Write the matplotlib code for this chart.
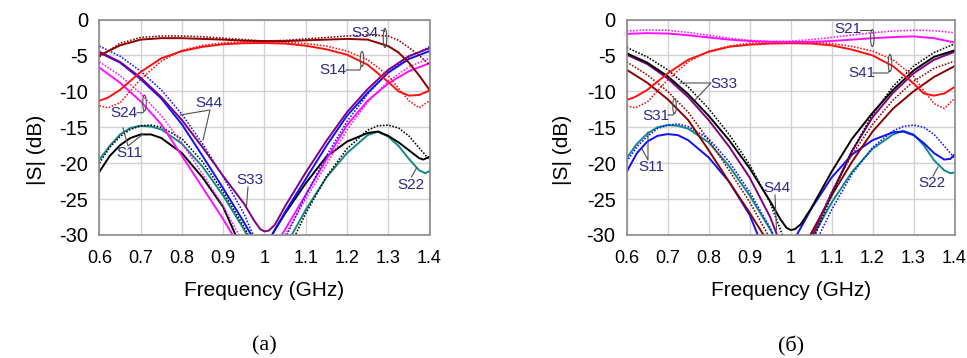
import matplotlib
matplotlib.use("Agg")
import matplotlib.pyplot as plt
from matplotlib.patches import Ellipse

plt.rcParams['font.family'] = ['Liberation Sans', 'DejaVu Sans']

# ---------------- data : panel (a) ----------------
a_S34_f = [0.6, 0.65, 0.7, 0.75, 0.8, 0.85, 0.9, 0.95, 1.0, 1.05, 1.1, 1.15, 1.2, 1.25, 1.3, 1.325, 1.35, 1.375, 1.4]
a_S34_sim = [-5.0, -3.6, -2.8, -2.6, -2.6, -2.7, -2.8, -2.95, -3.0, -3.0, -2.9, -2.8, -2.7, -2.8, -3.7, -4.6, -6.0, -7.8, -9.8]
a_S34_meas = [-5.2, -3.3, -2.5, -2.3, -2.3, -2.4, -2.6, -2.8, -3.0, -2.9, -2.7, -2.5, -2.3, -2.15, -2.3, -2.9, -3.9, -5.0, -6.3]

a_S14_f = [0.6, 0.62, 0.65, 0.7, 0.75, 0.8, 0.85, 0.9, 0.95, 1.0, 1.05, 1.1, 1.15, 1.2, 1.25, 1.3, 1.325, 1.35, 1.375, 1.4]
a_S14_sim = [-11.3, -10.9, -9.8, -7.3, -5.4, -4.4, -3.8, -3.45, -3.3, -3.27, -3.35, -3.65, -4.15, -4.9, -6.3, -8.7, -10.0, -10.6, -10.5, -9.9]
a_S14_meas = [-12.0, -12.3, -11.6, -8.3, -5.8, -4.3, -3.6, -3.25, -3.1, -3.1, -3.15, -3.35, -3.7, -4.4, -5.6, -7.8, -9.6, -11.3, -12.3, -11.3]

a_S44_f = [0.6, 0.65, 0.7, 0.75, 0.8, 0.85, 0.9, 0.95, 0.97, 1.0, 1.02, 1.05, 1.1, 1.15, 1.2, 1.25, 1.3, 1.35, 1.4]
a_S44_sim = [-4.6, -6.0, -8.3, -11.0, -14.6, -19.0, -23.5, -28.2, -30.2, -38.0, -29.8, -26.8, -22.2, -17.6, -13.4, -10.2, -7.4, -5.5, -4.4]
a_S44m_f = [0.6, 0.65, 0.7, 0.75, 0.8, 0.85, 0.9, 0.95, 0.975, 1.0, 1.04, 1.05, 1.1, 1.15, 1.2, 1.25, 1.3, 1.35, 1.4]
a_S44_meas = [-3.7, -5.1, -7.2, -9.8, -13.2, -17.3, -21.9, -27.0, -30.3, -36.0, -34.0, -30.5, -24.5, -19.0, -14.2, -10.4, -7.3, -5.2, -3.8]

a_S33_f = [0.6, 0.65, 0.7, 0.75, 0.8, 0.85, 0.9, 0.95, 0.975, 0.99, 1.0, 1.01, 1.025, 1.05, 1.1, 1.15, 1.2, 1.25, 1.3, 1.35, 1.4]
a_S33_sim = [-4.5, -5.9, -8.1, -10.8, -14.0, -17.8, -21.8, -25.6, -28.0, -29.2, -29.5, -29.4, -28.6, -26.0, -21.3, -16.9, -12.9, -9.7, -7.0, -5.1, -4.0]

a_S24_f = [0.6, 0.65, 0.7, 0.75, 0.8, 0.85, 0.9, 0.925, 0.95, 1.03, 1.042, 1.1, 1.15, 1.2, 1.25, 1.3, 1.35, 1.4]
a_S24_sim = [-6.7, -8.8, -11.4, -14.6, -19.0, -23.4, -27.8, -30.2, -34.0, -33.0, -30.0, -24.4, -19.5, -14.7, -11.3, -8.9, -7.2, -6.1]
a_S24m_f = [0.6, 0.65, 0.7, 0.75, 0.8, 0.85, 0.9, 0.94, 0.96, 1.04, 1.05, 1.1, 1.15, 1.2, 1.25, 1.3, 1.35, 1.4]
a_S24_meas = [-5.9, -7.8, -10.3, -13.4, -17.2, -21.5, -26.0, -30.2, -33.0, -33.0, -30.0, -25.0, -20.2, -15.4, -11.5, -8.6, -6.6, -5.4]

a_S11t_f = [0.6, 0.625, 0.65, 0.675, 0.7, 0.725, 0.75, 0.8, 0.85, 0.9, 0.95, 0.96, 0.98, 1.06, 1.066, 1.1, 1.15, 1.2, 1.25, 1.275, 1.3, 1.325, 1.35, 1.375, 1.39, 1.4]
a_S11_teal = [-19.5, -17.6, -16.0, -15.1, -14.8, -14.9, -15.3, -17.3, -20.5, -24.5, -29.2, -30.3, -33.0, -31.0, -30.0, -26.5, -22.0, -18.6, -16.1, -15.6, -16.3, -17.6, -19.4, -21.0, -21.4, -21.1]
a_S11k_f = [0.6, 0.625, 0.65, 0.675, 0.7, 0.725, 0.75, 0.8, 0.85, 0.9, 0.93, 0.95, 1.0, 1.02, 1.05, 1.1, 1.15, 1.2, 1.25, 1.275, 1.3, 1.325, 1.35, 1.375, 1.385, 1.4]
a_S11_black = [-21.2, -19.0, -17.5, -16.5, -16.0, -16.0, -16.5, -18.6, -22.0, -26.1, -30.0, -33.0, -33.0, -29.8, -27.0, -22.8, -19.1, -17.0, -15.8, -15.6, -16.2, -17.1, -18.2, -19.3, -19.5, -19.1]
a_S11d_f = [0.6, 0.625, 0.65, 0.675, 0.7, 0.725, 0.75, 0.8, 0.85, 0.9, 0.95, 0.965, 0.99, 1.06, 1.075, 1.1, 1.15, 1.2, 1.25, 1.275, 1.3, 1.325, 1.35, 1.375, 1.4]
a_S11_dot = [-20.0, -17.8, -16.3, -15.3, -14.8, -14.7, -15.0, -16.6, -19.8, -24.0, -28.8, -30.5, -34.0, -33.0, -30.0, -27.0, -21.9, -18.0, -15.4, -14.8, -14.7, -15.1, -16.2, -17.9, -19.5]

# ---------------- data : panel (b) ----------------
b_S21_f = [0.6, 0.65, 0.7, 0.75, 0.8, 0.85, 0.9, 0.95, 1.0, 1.05, 1.1, 1.15, 1.2, 1.25, 1.3, 1.35, 1.4]
b_S21_sim = [-2.0, -1.9, -1.95, -2.2, -2.5, -2.8, -3.0, -3.1, -3.15, -3.1, -3.0, -2.8, -2.6, -2.45, -2.35, -2.6, -3.2]
b_S21_meas = [-1.6, -1.45, -1.5, -1.8, -2.2, -2.6, -2.9, -3.05, -3.0, -2.8, -2.5, -2.15, -1.85, -1.6, -1.5, -1.55, -1.85]

b_S41_f = [0.6, 0.62, 0.65, 0.7, 0.75, 0.8, 0.85, 0.9, 0.95, 1.0, 1.05, 1.1, 1.15, 1.2, 1.25, 1.3, 1.325, 1.35, 1.375, 1.4]
b_S41_sim = [-11.2, -10.8, -9.8, -7.5, -5.6, -4.5, -3.8, -3.5, -3.35, -3.3, -3.35, -3.6, -4.2, -5.0, -6.5, -8.9, -10.3, -10.6, -10.3, -9.4]
b_S41_meas = [-12.0, -12.3, -11.5, -8.4, -5.9, -4.4, -3.7, -3.3, -3.15, -3.1, -3.15, -3.35, -3.75, -4.4, -5.6, -7.9, -9.9, -11.7, -12.4, -11.0]

b_S33_f = [0.6, 0.65, 0.7, 0.75, 0.8, 0.85, 0.9, 0.95, 0.975, 0.99, 1.0, 1.01, 1.025, 1.05, 1.1, 1.15, 1.2, 1.25, 1.3, 1.35, 1.4]
b_S33_sim = [-4.7, -6.0, -7.9, -10.4, -13.4, -16.8, -20.7, -25.3, -27.8, -29.0, -29.3, -29.2, -28.5, -26.3, -21.2, -16.6, -13.0, -9.8, -7.1, -5.2, -4.3]
b_S33m_f = [0.6, 0.65, 0.7, 0.75, 0.8, 0.85, 0.9, 0.95, 0.98, 1.0, 1.04, 1.06, 1.1, 1.15, 1.2, 1.25, 1.3, 1.35, 1.4]
b_S33_meas = [-3.9, -5.2, -7.0, -9.4, -12.4, -16.0, -20.2, -25.5, -30.0, -34.0, -33.0, -30.0, -24.5, -18.3, -13.2, -9.3, -6.5, -4.6, -3.4]

b_S44_f = [0.6, 0.65, 0.7, 0.75, 0.8, 0.85, 0.9, 0.95, 0.967, 0.99, 1.04, 1.05, 1.1, 1.15, 1.2, 1.25, 1.3, 1.35, 1.4]
b_S44_sim = [-4.9, -6.2, -8.2, -10.8, -14.0, -17.7, -22.0, -27.5, -30.0, -35.0, -34.0, -30.5, -24.2, -18.3, -13.6, -10.2, -7.5, -5.6, -4.5]

b_S31_f = [0.6, 0.65, 0.7, 0.75, 0.8, 0.85, 0.9, 0.934, 0.96, 1.04, 1.048, 1.1, 1.15, 1.2, 1.25, 1.3, 1.35, 1.4]
b_S31_sim = [-7.0, -8.8, -11.1, -14.0, -18.2, -22.6, -26.9, -30.0, -34.0, -33.0, -30.0, -24.5, -19.8, -15.6, -12.4, -10.0, -8.0, -6.5]
b_S31m_f = [0.6, 0.65, 0.7, 0.75, 0.8, 0.85, 0.9, 0.945, 0.97, 1.04, 1.052, 1.1, 1.15, 1.2, 1.25, 1.3, 1.35, 1.4]
b_S31_meas = [-5.9, -7.7, -10.0, -12.9, -16.8, -21.0, -25.4, -30.0, -34.0, -33.0, -30.0, -24.0, -18.8, -14.6, -11.2, -8.6, -6.8, -5.8]

b_S11b_f = [0.6, 0.625, 0.65, 0.675, 0.7, 0.725, 0.75, 0.8, 0.85, 0.9, 0.92, 0.94, 1.0, 1.015, 1.05, 1.1, 1.15, 1.2, 1.25, 1.275, 1.3, 1.325, 1.35, 1.375, 1.39, 1.4]
b_S11_blue = [-21.2, -18.6, -17.0, -16.2, -15.95, -16.1, -16.8, -19.2, -22.6, -27.2, -30.0, -33.0, -33.0, -30.0, -26.4, -22.0, -18.8, -16.8, -15.7, -15.6, -16.1, -17.2, -18.6, -19.5, -19.4, -18.8]
b_S11t_f = [0.6, 0.625, 0.65, 0.675, 0.7, 0.725, 0.75, 0.8, 0.85, 0.9, 0.95, 0.96, 0.98, 1.045, 1.056, 1.1, 1.15, 1.2, 1.25, 1.275, 1.3, 1.325, 1.35, 1.375, 1.39, 1.4]
b_S11_teal = [-19.3, -17.3, -15.9, -15.0, -14.7, -14.8, -15.2, -17.1, -20.4, -24.5, -29.2, -30.3, -33.0, -33.0, -30.0, -25.5, -21.2, -18.0, -16.0, -15.5, -16.0, -17.5, -19.6, -21.0, -21.4, -21.3]
b_S11d_f = [0.6, 0.625, 0.65, 0.675, 0.7, 0.725, 0.75, 0.8, 0.85, 0.9, 0.95, 0.96, 0.98, 1.06, 1.07, 1.1, 1.15, 1.2, 1.25, 1.275, 1.3, 1.325, 1.35, 1.375, 1.4]
b_S11_dot = [-19.8, -17.7, -16.3, -15.2, -14.7, -14.55, -14.9, -16.6, -19.8, -24.0, -29.0, -30.2, -33.0, -33.0, -30.0, -26.5, -21.5, -17.8, -15.5, -14.9, -14.7, -15.0, -16.0, -17.6, -19.3]

x_ticks = [0.6, 0.7, 0.8, 0.9, 1.0, 1.1, 1.2, 1.3, 1.4]
x_ticklabels = ['0.6', '0.7', '0.8', '0.9', '1', '1.1', '1.2', '1.3', '1.4']
y_ticks = [0, -5, -10, -15, -20, -25, -30]
y_ticklabels = ['0', '-5', '-10', '-15', '-20', '-25', '-30']
captions = ['(a)', '(б)']

# ---------------- styles ----------------
MAROON = '#8b0000'
RED = '#ff1010'
BLUE = '#1010ff'
MAG = '#ff10ff'
PURP = '#800080'
TEAL = '#108a8a'
BLK = '#000000'
LBL = '#2a2a8c'
SOLID = dict(lw=1.4, ls='-')
DOT = dict(lw=1.15, ls=(0, (1, 1)))

W, H = 967, 358
fig = plt.figure(figsize=(W / 100, H / 100), dpi=100)


def px_axes(x0, x1, y0, y1):
    return fig.add_axes([x0 / W, 1 - y1 / H, (x1 - x0) / W, (y1 - y0) / H])


axA = px_axes(99.4, 429.5, 19.5, 235.0)
axB = px_axes(626.7, 954.5, 19.5, 235.0)

for ax in (axA, axB):
    ax.set_xlim(0.6, 1.4)
    ax.set_ylim(-30, 0)
    ax.set_xticks(x_ticks)
    ax.set_xticklabels(x_ticklabels)
    ax.set_yticks(y_ticks)
    ax.set_yticklabels(y_ticklabels)
    ax.tick_params(axis='both', length=0)
    ax.tick_params(axis='x', labelsize=13, pad=11)
    ax.tick_params(axis='y', labelsize=14.5, pad=8)
    ax.grid(True, color='#d2d2d2', lw=1.0)
    ax.set_axisbelow(True)
    for s in ax.spines.values():
        s.set_color('#8a8a8a')
        s.set_linewidth(1.2)

# panel (a) curves
axA.plot(a_S11t_f, a_S11_teal, color=TEAL, **SOLID)
axA.plot(a_S11k_f, a_S11_black, color=BLK, **SOLID)
axA.plot(a_S11d_f, a_S11_dot, color=BLK, **DOT)
axA.plot(a_S24_f, a_S24_sim, color=MAG, **SOLID)
axA.plot(a_S24m_f, a_S24_meas, color=MAG, **DOT)
axA.plot(a_S44m_f, a_S44_meas, color=BLUE, **DOT)
axA.plot(a_S44_f, a_S44_sim, color=BLUE, **SOLID)
axA.plot(a_S33_f, a_S33_sim, color=PURP, **SOLID)
axA.plot(a_S14_f, a_S14_meas, color=RED, **DOT)
axA.plot(a_S14_f, a_S14_sim, color=RED, **SOLID)
axA.plot(a_S34_f, a_S34_meas, color=MAROON, **DOT)
axA.plot(a_S34_f, a_S34_sim, color=MAROON, **SOLID)

# panel (b) curves
axB.plot(b_S11t_f, b_S11_teal, color=TEAL, **SOLID)
axB.plot(b_S11d_f, b_S11_dot, color=BLUE, **DOT)
axB.plot(b_S11b_f, b_S11_blue, color=BLUE, **SOLID)
axB.plot(b_S31m_f, b_S31_meas, color=MAROON, **DOT)
axB.plot(b_S31_f, b_S31_sim, color=MAROON, **SOLID)
axB.plot(b_S44_f, b_S44_sim, color=PURP, **SOLID)
axB.plot(b_S33m_f, b_S33_meas, color=BLK, **DOT)
axB.plot(b_S33_f, b_S33_sim, color=BLK, **SOLID)
axB.plot(b_S41_f, b_S41_meas, color=RED, **DOT)
axB.plot(b_S41_f, b_S41_sim, color=RED, **SOLID)
axB.plot(b_S21_f, b_S21_meas, color=MAG, **DOT)
axB.plot(b_S21_f, b_S21_sim, color=MAG, **SOLID)


# ---------------- annotations (pixel positions) ----------------
def to_data(x0, x1, px, py):
    f = 0.6 + (px - x0) / (x1 - x0) * 0.8
    d = -(py - 19.5) / (235.0 - 19.5) * 30
    return f, d


def label(ax, x0, x1, text, tx, ty, lines=(), ell=None):
    f, d = to_data(x0, x1, tx, ty)
    ax.text(f, d, text, color=LBL, fontsize=11, ha='center', va='center', zorder=6)
    for seg in lines:
        pts = [to_data(x0, x1, p[0], p[1]) for p in seg]
        ax.plot([p[0] for p in pts], [p[1] for p in pts], color='#505050', lw=0.8, zorder=6)
    if ell is not None:
        cx, cy, ew, eh = ell
        fc, dc = to_data(x0, x1, cx, cy)
        wf = ew / (x1 - x0) * 0.8
        hd = eh / (235.0 - 19.5) * 30
        ax.add_patch(Ellipse((fc, dc), wf, hd, fill=False, ec='#505050', lw=0.8, zorder=6))


ax0, ax1 = 99.4, 429.5
label(axA, ax0, ax1, 'S34', 365, 33, [[(381, 30), (384, 30), (384, 31)]], (385, 38, 3.5, 19))
label(axA, ax0, ax1, 'S14', 333, 70, [[(346, 70), (360, 70), (361, 66)]], (362, 59, 3.5, 15))
label(axA, ax0, ax1, 'S24', 124, 113, [[(137, 112.7), (143, 112.7), (144, 111)]], (144.5, 103, 3.5, 16))
label(axA, ax0, ax1, 'S44', 209, 103, [[(180, 115), (210, 110), (203, 140)]])
label(axA, ax0, ax1, 'S33', 250, 180, [[(248, 187), (246.5, 206)]])
label(axA, ax0, ax1, 'S11', 129, 153, [[(123, 128), (128, 146), (143, 134)]])
label(axA, ax0, ax1, 'S22', 411, 185, [[(411.5, 177), (416.5, 168)]])

bx0, bx1 = 626.7, 954.5
label(axB, bx0, bx1, 'S21', 847.5, 29, [[(860, 30), (870, 30)]], (872.3, 38, 3.5, 17))
label(axB, bx0, bx1, 'S41', 862, 73, [[(873, 73), (888, 73), (889, 71)]], (890, 63, 3.5, 17))
label(axB, bx0, bx1, 'S33', 724, 84, [[(680, 83), (711, 83), (695, 100)]])
label(axB, bx0, bx1, 'S31', 656, 116, [[(668, 115), (673, 115), (674, 113)]], (674.5, 106, 3.5, 15))
label(axB, bx0, bx1, 'S11', 651, 167, [[(642, 149), (648, 160), (648, 132)]])
label(axB, bx0, bx1, 'S44', 777, 188, [[(775, 195), (776.5, 230)]])
label(axB, bx0, bx1, 'S22', 932, 183, [[(933, 176), (938, 167)]])

# axis labels and captions
for cx, ylx, cap in ((264.5, 37, captions[0]), (790.6, 563, captions[1])):
    fig.text(cx / W, 1 - 291 / H, 'Frequency (GHz)', fontsize=15, ha='center', va='center')
    fig.text(ylx / W, 1 - 150 / H, '|S| (dB)', fontsize=15, ha='center', va='center', rotation=90)
    fig.text(cx / W, 1 - 346 / H, cap, fontsize=16, ha='center', va='center',
             family=['Liberation Serif', 'DejaVu Serif'])

fig.savefig('out.png', dpi=100)
